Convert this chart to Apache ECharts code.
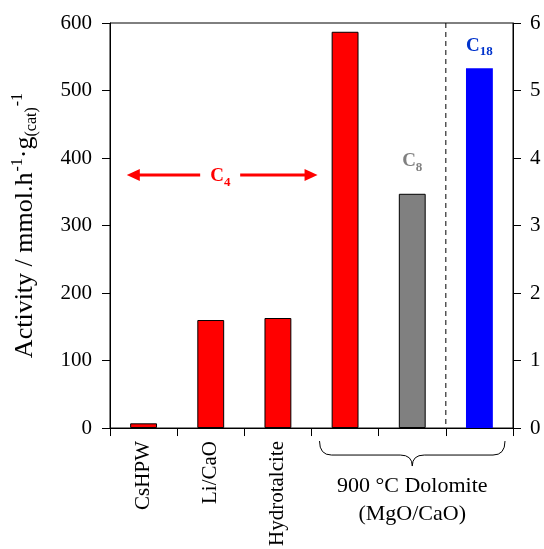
<!DOCTYPE html>
<html lang="en">
<head>
    <meta charset="UTF-8">
    <title>Activity</title>
    <script src="https://cdn.jsdelivr.net/npm/echarts@6/dist/echarts.min.js"></script>
    <style>
        html, body { margin: 0; padding: 0; background: #fff; }
        #chart { width: 544px; height: 549px; }
    </style>
</head>
<body>
<div id="chart"></div>
<script>
    // data
    var categories = ['CsHPW', 'Li/CaO', 'Hydrotalcite', 'Dolomite C4', 'Dolomite C8', 'Dolomite C18'];
    var tickLabels = ['CsHPW', 'Li/CaO', 'Hydrotalcite', '', '', ''];
    var activity = [7, 160, 163, 587, 347, 533];
    var barColors = ['#ff0000', '#ff0000', '#ff0000', '#ff0000', '#808080', '#0000ff'];
    var leftTicks = [0, 100, 200, 300, 400, 500, 600];
    var rightTicks = [0, 1, 2, 3, 4, 5, 6];
    var arrowLevel = 375;

    var FONT = '"Liberation Serif", "DejaVu Serif", serif';
    var chart = echarts.init(document.getElementById('chart'));

    function chemLabel(sub, color, dist) {
        return {
            show: true, position: 'top', distance: dist,
            formatter: '{c|C}{s|' + sub + '}',
            rich: {
                c: { fontFamily: FONT, fontWeight: 'bold', fontSize: 19, color: color },
                s: { fontFamily: FONT, fontWeight: 'bold', fontSize: 13, color: color, padding: [12, 0, 0, 0] }
            }
        };
    }

    var barData = activity.map(function (v, i) {
        var item = {
            value: v,
            itemStyle: {
                color: barColors[i],
                borderColor: i === 5 ? barColors[i] : '#000',
                borderWidth: i === 5 ? 0 : 1
            }
        };
        if (i === 4) item.label = chemLabel('8', '#808080', 20);
        if (i === 5) item.label = chemLabel('18', '#0033cc', 10);
        return item;
    });

    chart.setOption({
        animation: false,
        grid: { left: 110, right: 31, top: 23, bottom: 120, show: true, borderColor: '#000', borderWidth: 1 },
        xAxis: {
            type: 'category',
            data: categories,
            boundaryGap: true,
            axisLine: { lineStyle: { color: '#000', width: 1 } },
            axisTick: { show: true, length: 8, inside: false, lineStyle: { color: '#000' } },
            axisLabel: {
                interval: 0, rotate: 90, margin: 13,
                fontFamily: FONT, fontSize: 21, color: '#000',
                formatter: function (v, i) { return tickLabels[i]; }
            }
        },
        yAxis: [{
            type: 'value', min: leftTicks[0], max: leftTicks[leftTicks.length - 1], interval: 100,
            position: 'left',
            splitLine: { show: false },
            axisLine: { show: true, lineStyle: { color: '#000' } },
            axisTick: { show: true, length: 8, lineStyle: { color: '#000' } },
            axisLabel: { fontFamily: FONT, fontSize: 21, color: '#000', margin: 18 },
            name: '{t|Activity / mmol.h}{p|-1}{t|·g}{b|(cat)}{p|-1}',
            nameLocation: 'middle',
            nameRotate: 90,
            nameGap: 70,
            nameTextStyle: {
                rich: {
                    t: { fontFamily: FONT, fontSize: 26, color: '#000', lineHeight: 30, verticalAlign: 'middle' },
                    p: { fontFamily: FONT, fontSize: 16, color: '#000', lineHeight: 30, verticalAlign: 'top', padding: [0, 0, 0, 1] },
                    b: { fontFamily: FONT, fontSize: 16, color: '#000', lineHeight: 30, verticalAlign: 'bottom' }
                }
            }
        }, {
            type: 'value', min: rightTicks[0], max: rightTicks[rightTicks.length - 1], interval: 1,
            position: 'right',
            splitLine: { show: false },
            axisLine: { show: true, lineStyle: { color: '#000' } },
            axisTick: { show: true, length: 8, lineStyle: { color: '#000' } },
            axisLabel: { fontFamily: FONT, fontSize: 21, color: '#000', margin: 17 }
        }],
        series: [{
            type: 'bar',
            yAxisIndex: 0,
            barWidth: '40%',
            data: barData
        }]
    });

    // annotations placed through the axes
    function px(cat) { return chart.convertToPixel({ xAxisIndex: 0 }, cat); }
    function py(v) { return chart.convertToPixel({ yAxisIndex: 0 }, v); }
    var w = px(1) - px(0);
    var y0 = py(0), yTop = py(600);
    var ya = py(arrowLevel);
    var xL = px(0) - 0.25 * w, xR = px(3) - 0.41 * w;
    var xMid = (xL + xR) / 2;
    var xDash = px(4) + w / 2;
    var bx0 = px(3) - w / 2 + 8, bx1 = px(5) + w / 2 - 8, bm = (bx0 + bx1) / 2;
    var by0 = y0 + 13, by1 = y0 + 27, by2 = y0 + 38, r = 12;
    var brace = { stroke: '#000', lineWidth: 1, fill: null };

    chart.setOption({
        graphic: [
            { type: 'line', shape: { x1: xL + 10, y1: ya, x2: xMid - 22, y2: ya }, style: { stroke: '#ff0000', lineWidth: 3 } },
            { type: 'polygon', shape: { points: [[xL, ya], [xL + 13, ya - 6], [xL + 13, ya + 6]] }, style: { fill: '#ff0000' } },
            { type: 'line', shape: { x1: xMid + 18, y1: ya, x2: xR - 10, y2: ya }, style: { stroke: '#ff0000', lineWidth: 3 } },
            { type: 'polygon', shape: { points: [[xR, ya], [xR - 13, ya - 6], [xR - 13, ya + 6]] }, style: { fill: '#ff0000' } },
            {
                type: 'text', x: xMid - 12, y: ya - 11,
                style: {
                    text: '{c|C}{s|4}',
                    rich: {
                        c: { fontFamily: FONT, fontWeight: 'bold', fontSize: 19, fill: '#ff0000' },
                        s: { fontFamily: FONT, fontWeight: 'bold', fontSize: 13, fill: '#ff0000', padding: [12, 0, 0, 0] }
                    }
                }
            },
            { type: 'line', shape: { x1: xDash, y1: yTop, x2: xDash, y2: y0 }, style: { stroke: '#000', lineWidth: 1, lineDash: [5, 4] } },
            // curly brace
            { type: 'bezierCurve', shape: { x1: bx0, y1: by0, cpx1: bx0, cpy1: by1, x2: bx0 + r, y2: by1 }, style: brace },
            { type: 'line', shape: { x1: bx0 + r, y1: by1, x2: bm - r, y2: by1 }, style: brace },
            { type: 'bezierCurve', shape: { x1: bm - r, y1: by1, cpx1: bm, cpy1: by1, x2: bm, y2: by2 }, style: brace },
            { type: 'bezierCurve', shape: { x1: bm, y1: by2, cpx1: bm, cpy1: by1, x2: bm + r, y2: by1 }, style: brace },
            { type: 'line', shape: { x1: bm + r, y1: by1, x2: bx1 - r, y2: by1 }, style: brace },
            { type: 'bezierCurve', shape: { x1: bx1 - r, y1: by1, cpx1: bx1, cpy1: by1, x2: bx1, y2: by0 }, style: brace },
            {
                type: 'text', x: bm, y: by2 + 20,
                style: { text: '900 °C Dolomite', fontFamily: FONT, fontSize: 22, fill: '#000', align: 'center', verticalAlign: 'middle' }
            },
            {
                type: 'text', x: bm, y: by2 + 48,
                style: { text: '(MgO/CaO)', fontFamily: FONT, fontSize: 22, fill: '#000', align: 'center', verticalAlign: 'middle' }
            }
        ]
    });
</script>
</body>
</html>
